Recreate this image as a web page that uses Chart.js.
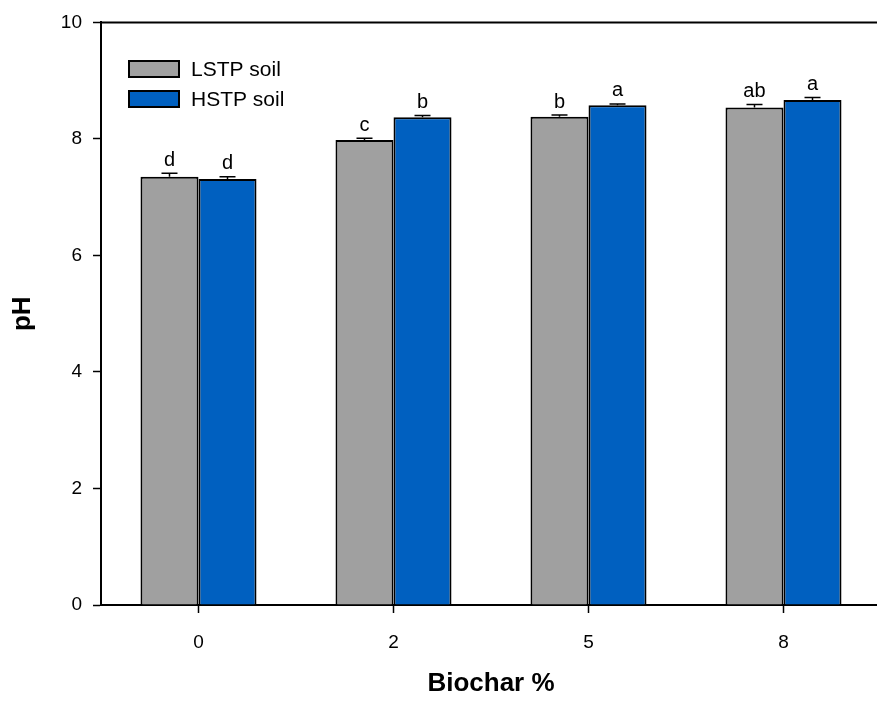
<!DOCTYPE html>
<html>
<head>
<meta charset="utf-8">
<script src="https://cdn.jsdelivr.net/npm/chart.js@4/dist/chart.umd.min.js"></script>
<style>
  html, body { margin: 0; padding: 0; background: #fff; overflow: hidden; }
  #wrap { width: 881px; height: 706px; }
</style>
</head>
<body>
<div id="wrap"><canvas id="c" width="881" height="706"></canvas></div>
<script>
// Biochar application rate (%) and soil pH for two soils
const categories = ['0', '2', '5', '8'];
const lstpValues = [7.35, 7.98, 8.38, 8.54];
const lstpErrors = [0.06, 0.03, 0.03, 0.05];
const lstpLetters = ['d', 'c', 'b', 'ab'];
const hstpValues = [7.31, 8.37, 8.58, 8.67];
const hstpErrors = [0.04, 0.03, 0.02, 0.04];
const hstpLetters = ['d', 'b', 'a', 'a'];
const yTicks = [0, 2, 4, 6, 8, 10];

const FONT = '"Liberation Sans", Arial, sans-serif';

// Upward error bars plus significance letters above each bar
const errorBarPlugin = {
  id: 'errorBars',
  afterDatasetsDraw(chart) {
    const ctx = chart.ctx;
    const yScale = chart.scales.y;
    chart.data.datasets.forEach((ds, di) => {
      const meta = chart.getDatasetMeta(di);
      meta.data.forEach((bar, i) => {
        const top = yScale.getPixelForValue(ds.data[i] + ds.errors[i]);
        ctx.save();
        ctx.strokeStyle = '#000';
        ctx.lineWidth = 1.5;
        ctx.beginPath();
        ctx.moveTo(bar.x, bar.y);
        ctx.lineTo(bar.x, top);
        ctx.moveTo(bar.x - 8, top);
        ctx.lineTo(bar.x + 8, top);
        ctx.stroke();
        ctx.fillStyle = '#000';
        ctx.font = '20px ' + FONT;
        ctx.textAlign = 'center';
        ctx.textBaseline = 'alphabetic';
        ctx.fillText(ds.letters[i], bar.x, top - 7.5);
        ctx.restore();
      });
    });
  }
};

// Top frame line and the boxed legend in the upper left of the plot
const framePlugin = {
  id: 'frameAndLegend',
  afterDraw(chart) {
    const ctx = chart.ctx;
    const area = chart.chartArea;
    ctx.save();
    ctx.strokeStyle = '#000';
    ctx.lineWidth = 2;
    ctx.beginPath();
    ctx.moveTo(area.left, area.top);
    ctx.lineTo(chart.width, area.top);
    ctx.stroke();

    const boxX = 129, boxW = 50, boxH = 16;
    const rows = [61, 91];
    chart.data.datasets.forEach((ds, di) => {
      const y = rows[di];
      ctx.fillStyle = ds.backgroundColor;
      ctx.fillRect(boxX, y, boxW, boxH);
      ctx.lineWidth = 2;
      ctx.strokeStyle = '#000';
      ctx.strokeRect(boxX, y, boxW, boxH);
      ctx.fillStyle = '#000';
      ctx.font = '21px ' + FONT;
      ctx.textAlign = 'left';
      ctx.textBaseline = 'middle';
      ctx.fillText(ds.label, 191, y + boxH / 2 + 1);
    });
    ctx.restore();
  }
};

new Chart(document.getElementById('c'), {
  type: 'bar',
  data: {
    labels: categories,
    datasets: [
      {
        label: 'LSTP soil',
        data: lstpValues,
        errors: lstpErrors,
        letters: lstpLetters,
        backgroundColor: '#a0a0a0',
        borderColor: '#000',
        borderWidth: 2
      },
      {
        label: 'HSTP soil',
        data: hstpValues,
        errors: hstpErrors,
        letters: hstpLetters,
        backgroundColor: '#0060c0',
        borderColor: '#000',
        borderWidth: 2
      }
    ]
  },
  options: {
    responsive: false,
    devicePixelRatio: 1,
    animation: false,
    layout: { padding: { top: 19, right: 0, bottom: 0, left: 0 } },
    datasets: { bar: { barPercentage: 1.0, categoryPercentage: 0.595 } },
    plugins: {
      legend: { display: false },
      tooltip: { enabled: false }
    },
    scales: {
      x: {
        offset: true,
        grid: {
          offset: false,
          drawOnChartArea: false,
          drawTicks: true,
          tickLength: 8,
          tickWidth: 1.5,
          tickColor: '#000'
        },
        border: { display: true, color: '#000', width: 2 },
        ticks: { color: '#000', font: { family: FONT, size: 19 }, padding: 18 },
        title: {
          display: true,
          text: 'Biochar %',
          color: '#000',
          font: { family: FONT, size: 26, weight: 'bold' },
          padding: { top: 0, bottom: 7 }
        },
        afterFit(scale) { scale.height = 101; }
      },
      y: {
        min: 0,
        max: 10,
        afterBuildTicks(scale) { scale.ticks = yTicks.map(v => ({ value: v })); },
        grid: {
          drawOnChartArea: false,
          drawTicks: true,
          tickLength: 8,
          tickWidth: 1.5,
          tickColor: '#000'
        },
        border: { display: true, color: '#000', width: 2 },
        ticks: { color: '#000', font: { family: FONT, size: 19 }, padding: 11 },
        title: {
          display: true,
          text: 'pH',
          color: '#000',
          font: { family: FONT, size: 26, weight: 'bold' },
          padding: { top: 7, bottom: 0 }
        },
        afterFit(scale) { scale.width = 101; }
      }
    }
  },
  plugins: [errorBarPlugin, framePlugin]
});
</script>
</body>
</html>
